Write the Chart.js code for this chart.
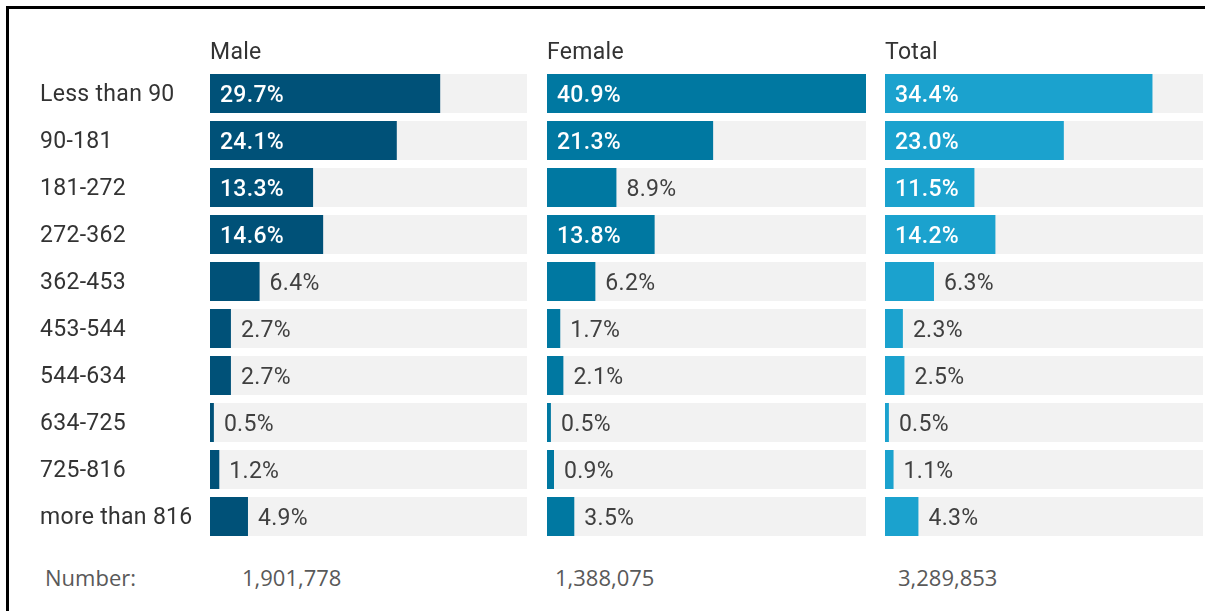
<!DOCTYPE html>
<html><head><meta charset="utf-8">
<script src="https://cdn.jsdelivr.net/npm/chart.js@4"></script>
<style>
html,body{margin:0;padding:0;background:#fff;}
#wrap{position:relative;width:1205px;height:611px;overflow:hidden;background:#fff;}
#frame{position:absolute;left:6px;top:6px;width:1300px;height:700px;border-top:3px solid #000;border-left:3px solid #000;box-sizing:border-box;}
.panel{position:absolute;top:0;height:560px;}
.num{position:absolute;top:562px;font-family:"Open Sans",sans-serif;font-size:22px;color:#595959;line-height:30px;white-space:nowrap;}
</style></head><body>
<div id="wrap">
<div id="frame"></div>
<div class="panel" style="left:0;width:530px"><canvas id="c0"></canvas></div>
<div class="panel" style="left:547px;width:319px"><canvas id="c1"></canvas></div>
<div class="panel" style="left:885px;width:318px"><canvas id="c2"></canvas></div>
<div class="num" id="nlab" style="left:45px"></div>
<div class="num" id="n0" style="left:242px"></div>
<div class="num" id="n1" style="left:555px"></div>
<div class="num" id="n2" style="left:898px"></div>
</div>
<script>
const categories = ['Less than 90','90-181','181-272','272-362','362-453','453-544','544-634','634-725','725-816','more than 816'];
const groups = ['Male','Female','Total'];
const maleValues = [29.7,24.1,13.3,14.6,6.4,2.7,2.7,0.5,1.2,4.9];
const femaleValues = [40.9,21.3,8.9,13.8,6.2,1.7,2.1,0.5,0.9,3.5];
const totalValues = [34.4,23.0,11.5,14.2,6.3,2.3,2.5,0.5,1.1,4.3];
const numberLabel = 'Number:';
const numbers = ['1,901,778','1,388,075','3,289,853'];

const series = [maleValues, femaleValues, totalValues];
const colors = ['#005178','#0078A1','#1BA2CE'];
const scaleMax = Math.max(...maleValues, ...femaleValues, ...totalValues);

document.getElementById('nlab').textContent = numberLabel;
numbers.forEach((n,i)=>{ document.getElementById('n'+i).textContent = n; });

const spacingPlugin = {
  id:'spacing',
  beforeDraw(chart){ chart.ctx.letterSpacing = '0.3px'; }
};
const trackPlugin = {
  id:'track',
  beforeDatasetsDraw(chart){
    const ctx = chart.ctx, a = chart.chartArea;
    const meta = chart.getDatasetMeta(0);
    ctx.save();
    ctx.fillStyle = '#F2F2F2';
    meta.data.forEach(el=>{
      ctx.fillRect(a.left, el.y - el.height/2, a.right - a.left, el.height);
    });
    ctx.restore();
  }
};
const labelPlugin = {
  id:'vlabels',
  afterDatasetsDraw(chart){
    const ctx = chart.ctx;
    const meta = chart.getDatasetMeta(0);
    const data = chart.data.datasets[0].data;
    ctx.save();
    ctx.textBaseline = 'middle';
    ctx.textAlign = 'left';
    meta.data.forEach((el,i)=>{
      const v = data[i];
      const txt = v.toFixed(1) + '%';
      if (v >= 10) {
        ctx.fillStyle = '#ffffff';
        ctx.font = '500 23px Roboto';
        ctx.fillText(txt, el.base + 10, el.y + 2.5);
      } else {
        ctx.fillStyle = '#404040';
        ctx.font = '400 23px Roboto';
        ctx.fillText(txt, el.x + 10, el.y + 2.5);
      }
    });
    ctx.restore();
  }
};

groups.forEach((g, gi)=>{
  const first = gi === 0;
  new Chart(document.getElementById('c'+gi), {
    type:'bar',
    data:{ labels: categories, datasets:[{ data: series[gi], backgroundColor: colors[gi], borderWidth:0, categoryPercentage:1, barPercentage:0.83 }] },
    options:{
      indexAxis:'y',
      responsive:true,
      maintainAspectRatio:false,
      animation:false,
      layout:{ padding:{ left: first ? 40 : 0, right: first ? 3 : 0, top:39, bottom:20 } },
      plugins:{
        legend:{display:false},
        tooltip:{enabled:false},
        title:{ display:true, text:g, align:'start', fullSize:false, color:'#333333',
          font:{family:'Roboto', size:23, weight:'normal', lineHeight:1.2}, padding:{top:0,bottom:3.4} }
      },
      scales:{
        x:{ display:false, min:0, max:scaleMax },
        y:{ display:first, grid:{display:false}, border:{display:false},
            afterFit(s){ if (first) s.width = 170; },
            ticks:{ crossAlign:'far', padding:0, labelOffset:2, color:'#333333', font:{family:'Roboto', size:23} } }
      }
    },
    plugins:[spacingPlugin, trackPlugin, labelPlugin]
  });
});
</script>
</body></html>
